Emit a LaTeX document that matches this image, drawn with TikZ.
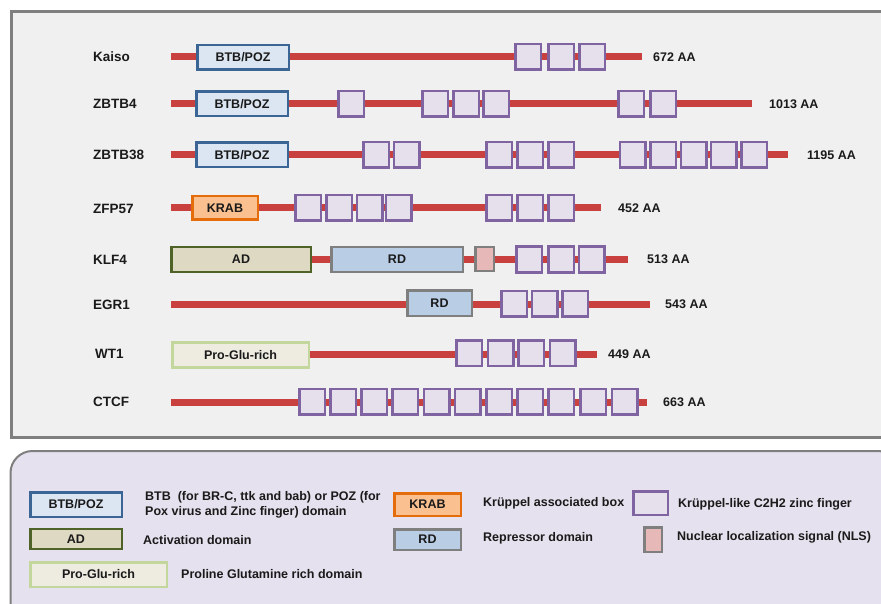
\documentclass[tikz,border=0pt]{standalone}
\usepackage{fontspec}
\setmainfont{Liberation Sans}
\definecolor{panelfill}{HTML}{F0F0F0}
\definecolor{panelline}{HTML}{7F7F7F}
\definecolor{legfill}{HTML}{E6E1EE}
\definecolor{redline}{HTML}{C8413F}
\definecolor{btbline}{HTML}{3A6595}
\definecolor{btbfill}{HTML}{DCE6F2}
\definecolor{krabline}{HTML}{E46C0A}
\definecolor{krabfill}{HTML}{FAC090}
\definecolor{adline}{HTML}{4F6228}
\definecolor{adfill}{HTML}{DDD9C3}
\definecolor{rdline}{HTML}{7F7F7F}
\definecolor{rdfill}{HTML}{B9CDE5}
\definecolor{nlsfill}{HTML}{E6B9B8}
\definecolor{zfline}{HTML}{8064A2}
\definecolor{zffill}{HTML}{E5E0EC}
\definecolor{pgline}{HTML}{C3D69B}
\definecolor{pgfill}{HTML}{EEECE1}
\definecolor{txt}{HTML}{1A1A1A}
\tikzset{
  backbone/.style={draw=redline, line width=7pt},
  dom/.style={draw, line width=2.5pt, inner sep=0pt, text=txt,
    font=\bfseries\fontsize{12.5}{14}\selectfont},
  btbbox/.style={dom, draw=btbline, fill=btbfill, minimum width=91.5pt, minimum height=24.5pt},
  krabbox/.style={dom, draw=krabline, fill=krabfill, minimum width=65.5pt, minimum height=23.5pt},
  adbox/.style={dom, draw=adline, fill=adfill, minimum height=24.5pt},
  rdbox/.style={dom, draw=rdline, fill=rdfill, minimum height=24.5pt},
  nlsbox/.style={dom, draw=rdline, fill=nlsfill, minimum width=18.5pt, minimum height=24pt},
  pgbox/.style={dom, draw=pgline, fill=pgfill, minimum height=25pt},
  zf/.style={dom, draw=zfline, fill=zffill, minimum width=25.5pt, minimum height=25.5pt},
  gene/.style={anchor=west, inner sep=0pt, text=txt, font=\bfseries\fontsize{13.5}{16}\selectfont},
  aa/.style={anchor=west, inner sep=0pt, text=txt, font=\bfseries\fontsize{12.5}{14}\selectfont},
  legtext/.style={anchor=west, inner sep=0pt, text=txt, align=left,
    font=\bfseries\fontsize{12.5}{15}\selectfont},
}
\begin{document}
\begin{tikzpicture}[x=1pt,y=-1pt]
\useasboundingbox (0,0) rectangle (881,604);
\clip (0,0) rectangle (881,604);
\fill[white] (0,0) rectangle (881,604);

% protein panel
\draw[panelline, fill=panelfill, line width=3pt] (11.5,11.5) rectangle (900,437);
% legend panel
\draw[panelline, fill=legfill, line width=2pt, rounded corners=22pt] (10.5,451) rectangle (900,630);

% ---------- Kaiso ----------
\node[gene] (kaiso) at (93,57) {Kaiso};
\coordinate (kaisoS) at (171,57);
\coordinate (kaisoE) at (642,57);
\draw[backbone] (kaisoS) -- (kaisoE);
\node[btbbox] (kaiso-btb) at (243,57.5) {BTB/POZ};
\foreach \x [count=\i] in {528,561,592}
  \node[zf] (kaiso-zf\i) at (\x,57) {};
\node[aa] (kaiso-len) at (653,57) {672 AA};

% ---------- ZBTB4 ----------
\node[gene] (zbtb4) at (93,104) {ZBTB4};
\coordinate (zbtb4S) at (171,104);
\coordinate (zbtb4E) at (752,104);
\draw[backbone] (zbtb4S) -- (zbtb4E);
\node[btbbox] (zbtb4-btb) at (242,104) {BTB/POZ};
\foreach \x [count=\i] in {351,435,466,496,631,663}
  \node[zf] (zbtb4-zf\i) at (\x,104) {};
\node[aa] (zbtb4-len) at (769,104) {1013 AA};

% ---------- ZBTB38 ----------
\node[gene] (zbtb38) at (93,155) {ZBTB38};
\coordinate (zbtb38S) at (171,155);
\coordinate (zbtb38E) at (788,155);
\draw[backbone] (zbtb38S) -- (zbtb38E);
\node[btbbox] (zbtb38-btb) at (242,155) {BTB/POZ};
\foreach \x [count=\i] in {376,406.5,499,530,561,632.5,663,693.5,723.5,754}
  \node[zf] (zbtb38-zf\i) at (\x,155) {};
\node[aa] (zbtb38-len) at (807,155) {1195 AA};

% ---------- ZFP57 ----------
\node[gene] (zfp57) at (93,209) {ZFP57};
\coordinate (zfp57S) at (171,208);
\coordinate (zfp57E) at (601,208);
\draw[backbone] (zfp57S) -- (zfp57E);
\node[krabbox] (zfp57-krab) at (225,208) {KRAB};
\foreach \x [count=\i] in {308,339,369.5,398.5,499,530,561}
  \node[zf] (zfp57-zf\i) at (\x,208) {};
\node[aa] (zfp57-len) at (618,208) {452 AA};

% ---------- KLF4 ----------
\node[gene] (klf4) at (93,260) {KLF4};
\coordinate (klf4S) at (175,259.5);
\coordinate (klf4E) at (628,259.5);
\draw[backbone] (klf4S) -- (klf4E);
\node[adbox, minimum width=139.5pt] (klf4-ad) at (241,259.5) {AD};
\node[rdbox, minimum width=131.5pt] (klf4-rd) at (397,259.5) {RD};
\node[nlsbox] (klf4-nls) at (484.5,259) {};
\foreach \x [count=\i] in {529,561,591.5}
  \node[zf] (klf4-zf\i) at (\x,259.5) {};
\node[aa] (klf4-len) at (647,259.5) {513 AA};

% ---------- EGR1 ----------
\node[gene] (egr1) at (93,305) {EGR1};
\coordinate (egr1S) at (171,304);
\coordinate (egr1E) at (650,304);
\draw[backbone] (egr1S) -- (egr1E);
\node[rdbox, minimum width=64.5pt, minimum height=25.5pt] (egr1-rd) at (439.5,303) {RD};
\foreach \x [count=\i] in {514,544.5,575}
  \node[zf] (egr1-zf\i) at (\x,303.5) {};
\node[aa] (egr1-len) at (665,304) {543 AA};

% ---------- WT1 ----------
\node[gene] (wt1) at (95,354) {WT1};
\coordinate (wt1S) at (200,354);
\coordinate (wt1E) at (597,354);
\draw[backbone] (wt1S) -- (wt1E);
\node[pgbox, minimum width=136.5pt] (wt1-pg) at (240.5,355) {Pro-Glu-rich};
\foreach \x [count=\i] in {469,500.5,531,562.5}
  \node[zf] (wt1-zf\i) at (\x,353) {};
\node[aa] (wt1-len) at (608,354) {449 AA};

% ---------- CTCF ----------
\node[gene] (ctcf) at (93,402) {CTCF};
\coordinate (ctcfS) at (171,402);
\coordinate (ctcfE) at (647,402);
\draw[backbone] (ctcfS) -- (ctcfE);
\foreach \x [count=\i] in {312,343,374,405,436.5,467.5,499,530,561,593,624.5}
  \node[zf] (ctcf-zf\i) at (\x,401.5) {};
\node[aa] (ctcf-len) at (663,402) {663 AA};

% ---------- legend ----------
\node[btbbox] (leg-btb) at (76,504.5) {BTB/POZ};
\node[legtext] (leg-btb-t) at (145,504.5) {BTB\ \ (for BR-C, ttk and bab) or POZ (for\\Pox virus and Zinc finger) domain};
\node[adbox, minimum width=91.5pt, minimum height=20pt] (leg-ad) at (76,539) {AD};
\node[legtext] (leg-ad-t) at (143,540) {Activation domain};
\node[pgbox, minimum width=136.5pt, minimum height=24.5pt] (leg-pg) at (98.5,574.5) {Pro-Glu-rich};
\node[legtext] (leg-pg-t) at (181,574) {Proline Glutamine rich domain};
\node[krabbox, minimum width=66.5pt, minimum height=22.5pt] (leg-krab) at (427.5,504.5) {KRAB};
\node[legtext] (leg-krab-t) at (483,503) {Kr\"uppel associated box};
\node[rdbox, minimum width=66.5pt, minimum height=20.5pt] (leg-rd) at (427.5,539.5) {RD};
\node[legtext] (leg-rd-t) at (483,538) {Repressor domain};
\node[zf, minimum width=34.5pt, minimum height=23.5pt] (leg-zf) at (650.5,503) {};
\node[legtext] (leg-zf-t) at (678,504) {Kr\"uppel-like C2H2 zinc finger};
\node[nlsbox, minimum width=17.5pt, minimum height=24.5pt] (leg-nls) at (653,539.5) {};
\node[legtext] (leg-nls-t) at (677,537) {Nuclear localization signal (NLS)};
\end{tikzpicture}
\end{document}
